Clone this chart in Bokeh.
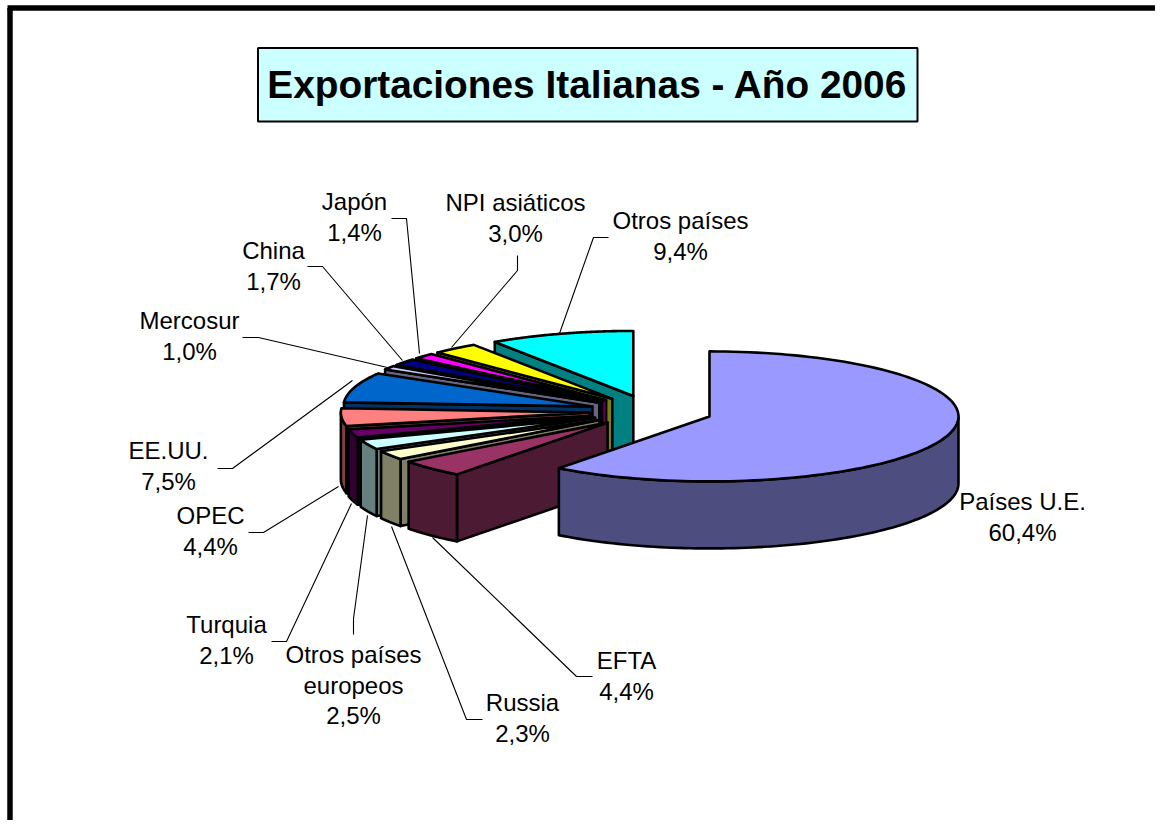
import numpy as np
from bokeh.plotting import figure
from bokeh.models import ColumnDataSource, Range1d
from bokeh.core.properties import value
from bokeh.embed import file_html
from bokeh.resources import INLINE

# ---- data (clockwise from 12 o'clock)
categories = ["Países U.E.", "EFTA", "Russia", "Otros países europeos", "Turquia", "OPEC",
              "EE.UU.", "Mercosur", "China", "Japón", "NPI asiáticos", "Otros países"]
shares = [60.4, 4.4, 2.3, 2.5, 2.1, 4.4, 7.5, 1.0, 1.7, 1.4, 3.0, 9.4]
share_labels = ["60,4%", "4,4%", "2,3%", "2,5%", "2,1%", "4,4%", "7,5%", "1,0%", "1,7%", "1,4%", "3,0%", "9,4%"]
top_colors = ["#9999FF", "#993366", "#FFFFCC", "#CCFFFF", "#660066", "#FF8080",
              "#0066CC", "#CCCCFF", "#000080", "#FF00FF", "#FFFF00", "#00FFFF"]
side_colors = ["#4D4D80", "#4D1A33", "#808066", "#668080", "#330033", "#804040",
               "#003366", "#666680", "#000040", "#800080", "#808000", "#008080"]
title_text = "Exportaciones Italianas - Año 2006"

# ---- pie projection (page pixels)
CX, CY = 650.7, 410.8
RX, RY = 249.0, 65.0
DEPTH = 67.0
EXPLODE = 0.247
FONT = "Liberation Sans"

# ---- layout of the labels: centre x and first line y; leader polylines
label_lines = [["Países U.E."], ["EFTA"], ["Russia"], ["Otros países", "europeos"], ["Turquia"], ["OPEC"],
               ["EE.UU."], ["Mercosur"], ["China"], ["Japón"], ["NPI asiáticos"], ["Otros países"]]
label_x = [1022, 626, 522, 353, 226, 210, 168, 189, 273, 354, 515, 680]
label_y = [501, 660, 702, 654, 624, 515, 450, 320, 250, 201, 202, 220]
LINE_H = 30.5
leaders = [
    [(592, 676), (576, 676), (432, 537)],
    [(482, 719), (466, 719), (391, 526)],
    [(353, 634), (353, 618), (367, 515)],
    [(271, 641), (286, 641), (351, 503)],
    [(248, 532), (263, 532), (338, 486)],
    [(217, 468), (232, 468), (352, 380)],
    [(242, 337), (258, 337), (387, 367)],
    [(307, 266), (322, 266), (402, 360)],
    [(391, 218), (406, 218), (419, 353)],
    [(517, 255), (517, 270), (451, 347)],
    [(608, 237), (593, 237), (559, 333)],
]

p = figure(width=1155, height=820, output_backend="svg", toolbar_location=None,
           x_range=Range1d(0, 1155), y_range=Range1d(820, 0),
           min_border=0, outline_line_color=None)
p.axis.visible = False
p.grid.visible = False
p.background_fill_color = "white"
p.border_fill_color = "white"

# outer frame of the picture
p.line([9.5, 9.5], [820, 7.5], line_color="black", line_width=5.5)
p.line([7, 1155], [7.5, 7.5], line_color="black", line_width=5.5)

# title box
p.quad(left=[257.5], right=[917], top=[47.5], bottom=[121], fill_color="#CCFFFF",
       line_color="black", line_width=2)
p.text([587], [84], text=[title_text], text_align="center", text_baseline="middle",
       text_font=value(FONT), text_font_style="bold", text_font_size="38.8px", text_color="black")

# slices
fractions = np.array(shares) / sum(shares)
ends = np.cumsum(fractions) * 2 * np.pi
starts = ends - fractions * 2 * np.pi


def project(ax, ay, angle, z=0.0):
    return ax + RX * np.sin(angle), ay - RY * np.cos(angle) + z


def face(xs, ys, color):
    p.patch(xs, ys, fill_color=color, line_color="black", line_width=2.6, line_join="round")


for i in range(len(shares) - 1, -1, -1):
    a0, a1 = starts[i], ends[i]
    mid = (a0 + a1) / 2
    ax = CX + EXPLODE * RX * np.sin(mid)
    ay = CY - EXPLODE * RY * np.cos(mid)
    # radial wall at the start of the slice when it turns to the viewer
    if np.pi < a0 < 2 * np.pi:
        ex, ey = project(ax, ay, a0)
        face([ax, ex, ex, ax], [ay, ey, ey + DEPTH, ay + DEPTH], side_colors[i])
    # radial wall at the end of the slice when it turns to the viewer
    if 0 < a1 < np.pi:
        ex, ey = project(ax, ay, a1)
        face([ax, ex, ex, ax], [ay, ey, ey + DEPTH, ay + DEPTH], side_colors[i])
    # outer wall
    w0, w1 = max(a0, np.pi / 2), min(a1, 3 * np.pi / 2)
    if w1 > w0:
        t = np.linspace(w0, w1, 90)
        wx, wy = project(ax, ay, t)
        face(np.r_[wx, wx[::-1]], np.r_[wy, wy[::-1] + DEPTH], side_colors[i])
    # top
    t = np.linspace(a0, a1, 120)
    tx, ty = project(ax, ay, t)
    face(np.r_[ax, tx], np.r_[ay, ty], top_colors[i])

# leaders
for pts in leaders:
    p.line([q[0] for q in pts], [q[1] for q in pts], line_color="black", line_width=1.1)

# labels
tx, ty, tt = [], [], []
for i in range(len(categories)):
    rows = label_lines[i] + [share_labels[i]]
    for r, row in enumerate(rows):
        tx.append(label_x[i])
        ty.append(label_y[i] + r * LINE_H)
        tt.append(row)
p.text(x="x", y="y", text="t", source=ColumnDataSource(dict(x=tx, y=ty, t=tt)),
       text_align="center", text_baseline="middle", text_font=value(FONT),
       text_font_size="24px", text_color="black")

open("out.html", "w").write(file_html(p, INLINE))
